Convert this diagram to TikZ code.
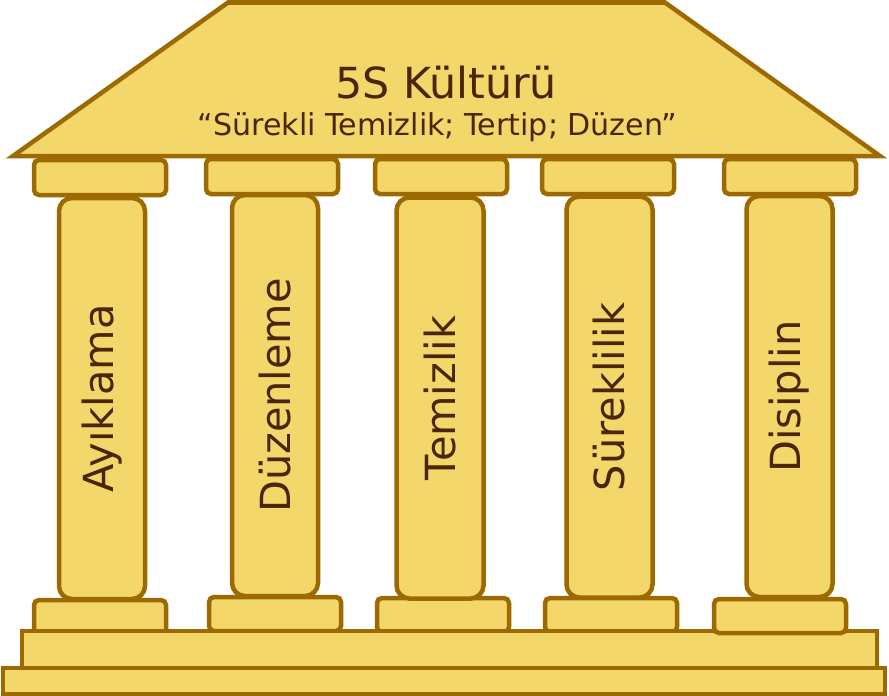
\documentclass[tikz,border=0pt]{standalone}
\usepackage{fontspec}
\setmainfont{DejaVu Sans}
\definecolor{stonefill}{HTML}{F4D76B}
\definecolor{stoneline}{HTML}{9C6A00}
\definecolor{stonetext}{HTML}{4A2508}
\begin{document}
\begin{tikzpicture}[
   x=1pt,y=-1pt,
   every node/.style={inner sep=0pt,text=stonetext},
   stone/.style={draw=stoneline,fill=stonefill,line width=4.5pt},
   slab/.style={stone,rectangle,rounded corners=5pt,minimum width=132pt,minimum height=35pt},
   base/.style={slab,minimum height=34pt},
   shaft/.style={stone,rectangle,rounded corners=13pt,minimum width=401pt,minimum height=86pt,rotate=90,font=\fontsize{41.5}{42}\selectfont}]
\useasboundingbox (0,0) rectangle (889,696);
% bases behind the plinth
\node[base] (B1) at (100,617) {};
\node[base] (B2) at (275,614) {};
\node[base] (B3) at (443,615) {};
\node[base] (B4) at (611,615) {};
\draw[stone] (3,668) rectangle (885,694);
\draw[stone] (22,631) rectangle (877,668);
\node[base] (B5) at (780,616) {};
% capitals
\node[slab] (C1) at (100,177.5) {};
\node[slab] (C2) at (272,176.5) {};
\node[slab] (C3) at (441,176.5) {};
\node[slab] (C4) at (608,176.5) {};
\node[slab] (C5) at (790,176.5) {};
% shafts
\node[shaft] (S1) at (102,398.5) {Ayıklama};
\node[shaft] (S2) at (275,395.5) {Düzenleme};
\node[shaft,minimum height=87pt] (S3) at (440,398) {Temizlik};
\node[shaft] (S4) at (609.5,397) {Süreklilik};
\node[shaft] (S5) at (789.5,396.5) {Disiplin};
% roof
\draw[stone,line join=miter] (228,2.5) -- (665,2.5) -- (880,156) -- (13,156) -- cycle;
\node[font=\fontsize{42.8}{43}\selectfont] (title) at (446,83) {5S Kültürü};
\node[font=\fontsize{30.1}{31}\selectfont] (motto) at (437.5,127) {“Sürekli Temizlik; Tertip; Düzen”};
\end{tikzpicture}
\end{document}
